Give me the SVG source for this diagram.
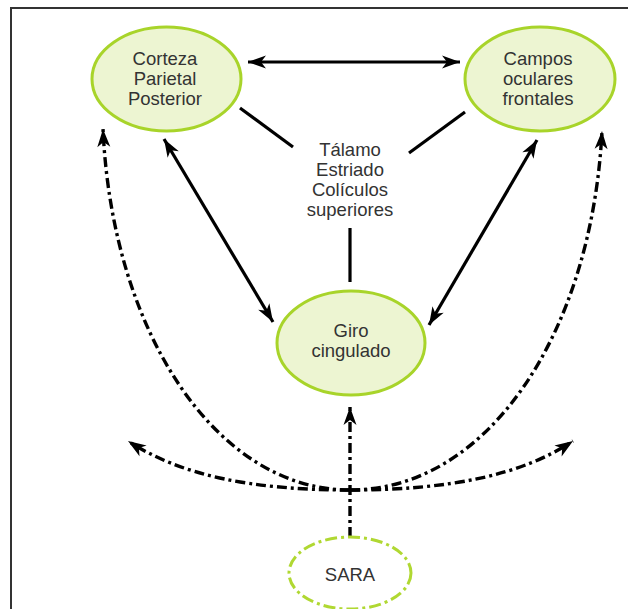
<svg xmlns="http://www.w3.org/2000/svg" width="628" height="609" viewBox="0 0 628 609">
<style>
.node{fill:#edf5d2;stroke:#a8d42a;stroke-width:3}
.sara{fill:#ffffff;stroke:#b0d832;stroke-width:3}
.sara{stroke-dasharray:12 4 3 4}
.lbl{font-family:"Liberation Sans",Arial,sans-serif;font-size:18.5px;fill:#333333;text-anchor:middle}
.solid{fill:none;stroke:#000;stroke-width:3.2}
.dd{fill:none;stroke:#000;stroke-width:3.4;stroke-dasharray:10 4 3 4}
</style>
<defs>
<marker id="ah" viewBox="-20 -8 22 16" refX="0" refY="0" markerWidth="22" markerHeight="16" markerUnits="userSpaceOnUse" orient="auto-start-reverse">
<path d="M0,0 L-18,-6.5 L-13,0 L-18,6.5 Z" fill="#000"/>
</marker>
</defs>
<rect width="628" height="609" fill="#ffffff"/>
<g id="frame">
<path d="M11,609 L11,8 L628,8" fill="none" stroke="#333333" stroke-width="2"/>
</g>
<g id="connectors">
<line class="solid" x1="248" y1="62" x2="460" y2="62" marker-start="url(#ah)" marker-end="url(#ah)"/>
<line class="solid" x1="240" y1="108" x2="293" y2="147"/>
<line class="solid" x1="465" y1="112" x2="409" y2="153"/>
<line class="solid" x1="350" y1="228" x2="350" y2="282"/>
<line class="solid" x1="164" y1="139" x2="273" y2="322" marker-start="url(#ah)" marker-end="url(#ah)"/>
<line class="solid" x1="537" y1="140" x2="429" y2="325" marker-start="url(#ah)" marker-end="url(#ah)"/>
<path class="dd" d="M350,490 C215,490 112,330 103,129" marker-end="url(#ah)"/>
<path class="dd" d="M350,490 C250,490 180,475 128,441" marker-end="url(#ah)"/>
<path class="dd" d="M350,490 C490,490 592,330 602,131" marker-end="url(#ah)"/>
<path class="dd" d="M350,490 C450,490 522,475 573,441" marker-end="url(#ah)"/>
<path class="dd" d="M350,537 L350,407" marker-end="url(#ah)"/>
</g>
<g id="node-corteza">
<ellipse class="node" cx="166.5" cy="79" rx="74.5" ry="52"/>
<text class="lbl" x="165" y="65">Corteza</text>
<text class="lbl" x="165" y="85">Parietal</text>
<text class="lbl" x="165" y="105">Posterior</text>
</g>
<g id="node-campos">
<ellipse class="node" cx="540" cy="79" rx="75" ry="52"/>
<text class="lbl" x="538" y="65">Campos</text>
<text class="lbl" x="538" y="85">oculares</text>
<text class="lbl" x="538" y="105">frontales</text>
</g>
<g id="node-talamo">
<text class="lbl" x="350" y="156">Tálamo</text>
<text class="lbl" x="350" y="176">Estriado</text>
<text class="lbl" x="350" y="196">Colículos</text>
<text class="lbl" x="350" y="216">superiores</text>
</g>
<g id="node-giro">
<ellipse class="node" cx="351" cy="343" rx="74" ry="52"/>
<text class="lbl" x="351" y="337">Giro</text>
<text class="lbl" x="351" y="357">cingulado</text>
</g>
<g id="node-sara">
<ellipse class="sara" cx="350" cy="573" rx="61" ry="36"/>
<text class="lbl" x="350" y="581">SARA</text>
</g>
</svg>
